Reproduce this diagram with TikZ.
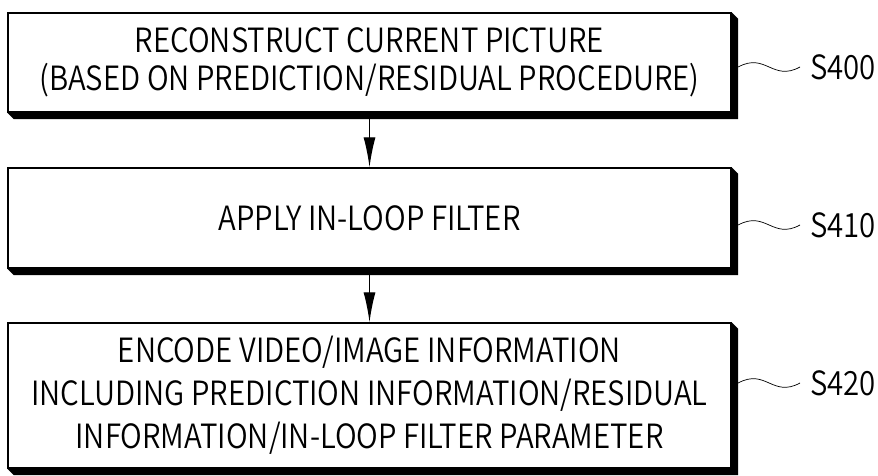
\documentclass[tikz,border=0pt]{standalone}
\usepackage{fontspec}
\setmainfont[FakeStretch=0.88]{Noto Sans CJK KR DemiLight}
\usepackage{tikz}
\usetikzlibrary{calc,arrows.meta}

\tikzset{
  stepbox/.style={draw,thick,fill=white,minimum width=14.46cm,align=center,
    font=\fontsize{19}{21.6}\selectfont},
  stepno/.style={anchor=west,inner sep=0pt,font=\fontsize{19}{21.6}\selectfont},
  flow/.style={thick,-{Latex[length=0.6cm,width=0.24cm]}}
}

\begin{document}
\begin{tikzpicture}
\useasboundingbox (0,0) rectangle (17.56,9.5);
\node[stepbox,minimum height=1.98cm] (b1) at (7.39,8.25)
  {RECONSTRUCT CURRENT PICTURE\\(BASED ON PREDICTION/RESIDUAL PROCEDURE)};
\node[stepbox,minimum height=2cm] (b2) at (7.39,5.14) {APPLY IN-LOOP FILTER};
\node[stepbox,minimum height=2.9cm,font=\fontsize{19}{24.5}\selectfont] (b3) at (7.39,1.59)
  {ENCODE VIDEO/IMAGE INFORMATION\\INCLUDING PREDICTION INFORMATION/RESIDUAL\\INFORMATION/IN-LOOP FILTER PARAMETER};
% shadows
\foreach \b in {b1,b2,b3}
  \fill (\b.south west) -- ++(0.13,-0.13) -- ($(\b.south east)+(0.13,-0.13)$)
    -- ($(\b.north east)+(0.13,-0.13)$) -- (\b.north east) -- (\b.south east) -- cycle;
% step numbers
\node[stepno] (l1) at (16.2,8.16) {S400};
\node[stepno] (l2) at (16.2,5.0) {S410};
\node[stepno] (l3) at (16.2,1.84) {S420};
\coordinate (t1) at ($(b1.north east)+(0.13,0)$);
\coordinate (t2) at ($(b2.north east)+(0.13,0)$);
\coordinate (t3) at ($(b3.north east)+(0.13,0)$);
\draw (t1 |- l1.west) .. controls +(0.55,0.3) and +(-0.55,-0.3) .. ([xshift=-0.2cm]l1.west);
\draw (t2 |- l2.west) .. controls +(0.55,0.3) and +(-0.55,-0.3) .. ([xshift=-0.2cm]l2.west);
\draw (t3 |- l3.west) .. controls +(0.55,0.3) and +(-0.55,-0.3) .. ([xshift=-0.2cm]l3.west);
% arrows
\draw[flow] ($(b1.south)+(0,-0.13)$) -- (b2.north);
\draw[flow] ($(b2.south)+(0,-0.13)$) -- (b3.north);
\end{tikzpicture}
\end{document}
